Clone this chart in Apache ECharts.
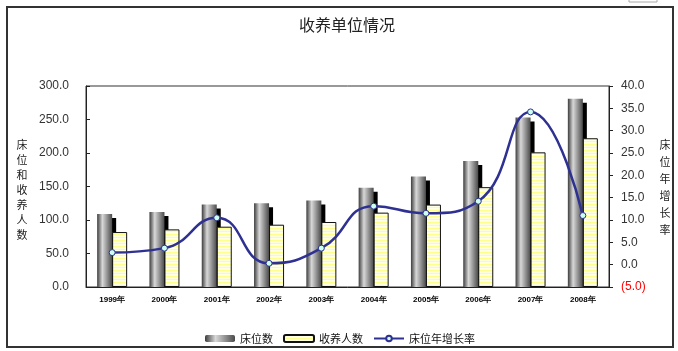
<!DOCTYPE html>
<html>
<head>
<meta charset="utf-8">
<script src="https://cdn.jsdelivr.net/npm/echarts@6/dist/echarts.min.js"></script>
<style>
  html, body { margin: 0; padding: 0; background: #fff; }
  #chart { width: 678px; height: 351px; }
</style>
</head>
<body>
<div id="chart"></div>
<script>
// data
const years = ['1999年', '2000年', '2001年', '2002年', '2003年', '2004年', '2005年', '2006年', '2007年', '2008年']
const beds = [109, 112, 123, 125, 129, 148, 165, 188, 253, 281]
const adopted = [82, 86, 90, 93, 97, 111, 123, 149, 201, 222]
const bedGrowth = [2.7, 3.7, 10.5, 0.3, 3.7, 13.1, 11.5, 14.2, 34.2, 11.0]
const leftTicks = [0, 300, 50]
const rightTicks = [-5, 40, 5]

const font = '"Liberation Sans", Arial, sans-serif'
const cjk = '"Noto Sans CJK SC", sans-serif'

// striped yellow fill for the adopted series
const stripe = document.createElement('canvas')
stripe.width = 4
stripe.height = 3
const sctx = stripe.getContext('2d')
sctx.fillStyle = '#ffffe6'
sctx.fillRect(0, 0, 4, 3)
sctx.fillStyle = '#ffff8c'
sctx.fillRect(0, 0, 4, 1)

const chart = echarts.init(document.getElementById('chart'))

const option = {
  backgroundColor: '#fff',
  animation: false,
  grid: {
    left: 86, right: 69, top: 86, bottom: 64,
    show: true, borderColor: '#333', borderWidth: 1
  },
  legend: {
    left: 200, top: 328,
    itemWidth: 30, itemHeight: 7, itemGap: 10,
    textStyle: { fontFamily: cjk, fontSize: 11, color: '#111' },
    data: ['床位数', '收养人数', '床位年增长率']
  },
  xAxis: {
    type: 'category',
    data: years,
    z: 4,
    axisLine: { lineStyle: { color: '#222', width: 1 } },
    axisTick: { inside: true, length: 3, lineStyle: { color: '#222' } },
    axisLabel: { fontFamily: font, fontSize: 8, fontWeight: 'bold', color: '#000', margin: 9 }
  },
  yAxis: [
    {
      type: 'value',
      min: leftTicks[0], max: leftTicks[1], interval: leftTicks[2],
      splitLine: { show: false },
      axisLine: { show: true, lineStyle: { color: '#222' } },
      axisTick: { show: true, inside: true, length: 4, lineStyle: { color: '#222' } },
      axisLabel: {
        fontFamily: font, fontSize: 12, color: '#333', margin: 17,
        formatter: v => v.toFixed(1)
      }
    },
    {
      type: 'value',
      min: rightTicks[0], max: rightTicks[1], interval: rightTicks[2],
      splitLine: { show: false },
      axisLine: { show: true, lineStyle: { color: '#222' } },
      axisTick: { show: true, length: 4, lineStyle: { color: '#222' } },
      axisLabel: {
        fontFamily: font, fontSize: 12, margin: 12,
        formatter: v => v < 0 ? '(' + Math.abs(v).toFixed(1) + ')' : v.toFixed(1),
        color: v => (v < 0 ? '#ff0000' : '#333')
      }
    }
  ],
  series: [
    {
      name: '床位数',
      type: 'bar',
      data: beds,
      barWidth: 15,
      barGap: '0%',
      itemStyle: {
        color: new echarts.graphic.LinearGradient(0, 0, 1, 0, [
          { offset: 0, color: '#3c3c3c' },
          { offset: 0.35, color: '#d8d8d8' },
          { offset: 1, color: '#4a4a4a' }
        ]),
        borderWidth: 0,
        shadowColor: '#000',
        shadowOffsetX: 4,
        shadowOffsetY: 4,
        shadowBlur: 0
      }
    },
    {
      name: '收养人数',
      type: 'bar',
      data: adopted,
      barWidth: 15,
      itemStyle: {
        color: { image: stripe, repeat: 'repeat' },
        borderColor: '#111',
        borderWidth: 1
      }
    },
    {
      name: '床位年增长率',
      type: 'line',
      yAxisIndex: 1,
      data: bedGrowth,
      smooth: 0.5,
      symbol: 'circle',
      symbolSize: 6,
      lineStyle: { color: '#2e3192', width: 2.5 },
      itemStyle: {
        color: '#ccffee',
        borderColor: '#2e3192',
        borderWidth: 1
      },
      z: 5
    }
  ],
  graphic: [
    {
      // hides the bar shadows that would spill below the baseline
      type: 'rect',
      z: 3,
      shape: { x: 87, y: 288, width: 521, height: 5 },
      style: { fill: '#fff' }
    },
    {
      type: 'rect',
      shape: { x: 7, y: 7, width: 666, height: 340 },
      style: { fill: 'none', stroke: '#333', lineWidth: 2 }
    },
    {
      type: 'rect',
      shape: { x: 629, y: -4, width: 28, height: 6 },
      style: { fill: 'none', stroke: '#aaa', lineWidth: 1 }
    },
    {
      type: 'text',
      x: 347, y: 25,
      style: {
        text: '收养单位情况', fontFamily: cjk, fontSize: 16, fill: '#222',
        textAlign: 'center', textVerticalAlign: 'middle'
      }
    },
    {
      type: 'text',
      x: 22, y: 190,
      style: {
        text: '床\n位\n和\n收\n养\n人\n数', fontFamily: cjk, fontSize: 11, lineHeight: 15, fill: '#222',
        textAlign: 'center', textVerticalAlign: 'middle'
      }
    },
    {
      type: 'text',
      x: 665, y: 187,
      style: {
        text: '床\n位\n年\n增\n长\n率', fontFamily: cjk, fontSize: 11, lineHeight: 17, fill: '#222',
        textAlign: 'center', textVerticalAlign: 'middle'
      }
    }
  ]
}

chart.setOption(option)
</script>
</body>
</html>
